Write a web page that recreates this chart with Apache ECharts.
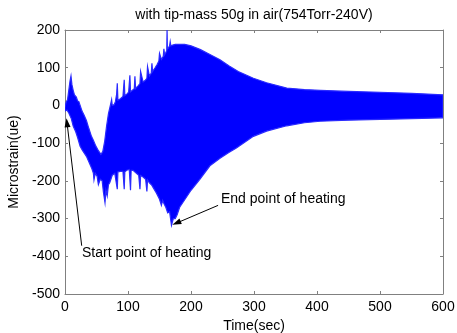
<!DOCTYPE html>
<html>
<head>
<meta charset="utf-8">
<script src="https://cdn.jsdelivr.net/npm/echarts@6/dist/echarts.min.js"></script>
<style>
  html, body { margin: 0; padding: 0; background: #fff; }
  #main-echart { width: 457px; height: 333px; }
</style>
</head>
<body>
<div id="main-echart"></div>
<script>
// upper edge of the oscillation band (time in sec, microstrain)
const upperT = [0, 2, 4, 6, 8, 9.5, 11, 13, 15, 18, 20, 22, 24, 27, 30, 34, 38, 42, 45, 49, 53, 57, 60, 63, 66, 69, 72, 74, 75,
  78, 80, 82, 83, 84, 88, 92, 94, 95, 98, 101, 103, 104, 107, 110, 111, 112, 116, 119, 120, 124, 127, 130, 131, 134, 137, 138, 139,
  143, 146, 149, 150, 153, 156, 157, 158, 160, 161.5, 162, 162.5, 164, 166, 167, 168, 171, 175, 180, 190, 200, 215, 230, 246, 260,
  275, 299, 320, 352, 380, 405, 450, 500, 550, 600];
const upperV = [-5, 10, 15, 40, 65, 78, 55, 40, 28, 22, 12, 10, 0, -15, -25, -40, -62, -82, -92, -108, -120, -130, -122, -95, -55, -22, 0, 15, 0,
  2, 10, 30, 59, 14, 18, 24, 68, 26, 30, 35, 80, 36, 40, 44, 77, 45, 52, 58, 90, 62, 66, 72, 103, 78, 86, 112, 90,
  100, 108, 118, 138, 122, 130, 150, 134, 140, 145, 200, 150, 152, 158, 169, 158, 160, 162, 162, 162, 158, 148, 135, 121, 105,
  90, 72, 60, 46, 42, 40, 37, 35, 32, 28];

// lower edge of the oscillation band
const lowerT = [0, 3, 6, 10, 13, 17, 20, 24, 28, 34, 38, 42, 45, 46, 48, 51, 53, 56, 59, 61, 63.5, 65, 67, 69, 71, 75, 79, 83, 84, 88, 92,
  94, 95, 98, 102, 104, 105, 108, 112, 117, 119, 120, 124, 128, 130, 131, 134, 138, 140, 145, 150, 153, 155, 157, 160, 163, 166,
  169, 172, 175, 178, 182, 190, 200, 214, 230, 246, 260, 272, 299, 320, 352, 380, 405, 450, 500, 550, 600];
const lowerV = [-15, -12, -20, -35, -55, -70, -85, -108, -120, -135, -150, -165, -179, -197, -180, -188, -210, -196, -200, -230, -258, -225, -240, -210, -205, -185, -180, -222, -176, -175, -175,
  -222, -176, -172, -170, -225, -172, -172, -178, -185, -222, -186, -190, -196, -228, -198, -205, -212, -218, -232, -249, -265, -252, -260, -270, -285, -282,
  -318, -300, -300, -290, -270, -250, -225, -196, -160, -140, -125, -113, -82, -68, -54, -46, -42, -39, -37, -35, -33];

// annotation arrows: [tail, head]
const startArrow = [[26.5, -372], [3.2, -46]];
const endArrow = [[243, -265], [177, -312]];

const xTicks = { min: 0, max: 600, interval: 100 };
const yTicks = { min: -500, max: 200, interval: 100 };

let myChart = echarts.init(document.getElementById('main-echart'), null, { renderer: 'canvas' });
const axisGray = '#808080';
const txtFont = 'Liberation Sans, Arial, sans-serif';

function boxAxis(pos, ticks, show) {
  return {
    type: 'value',
    position: pos,
    min: ticks.min,
    max: ticks.max,
    interval: ticks.interval,
    axisLine: { show: true, onZero: false, lineStyle: { color: axisGray, width: 1 } },
    axisTick: { show: true, inside: true, length: 3, lineStyle: { color: axisGray } },
    axisLabel: { show: show, color: '#000', fontSize: 14, fontFamily: txtFont, margin: 5 },
    splitLine: { show: false }
  };
}

const xMain = boxAxis('bottom', xTicks, true);
xMain.axisLabel.margin = 6;
xMain.name = 'Time(sec)';
xMain.nameLocation = 'middle';
xMain.nameGap = 22;
xMain.nameTextStyle = { color: '#000', fontSize: 14, fontFamily: txtFont };

const yMain = boxAxis('left', yTicks, true);
yMain.name = 'Microstrain(ue)';
yMain.nameLocation = 'middle';
yMain.nameGap = 30;
yMain.nameTextStyle = { color: '#000', fontSize: 14, fontFamily: txtFont };

const arrowLine = (a) => [
  { coord: a[0], symbol: 'none' },
  { coord: a[1], symbol: 'triangle', symbolSize: [6, 9] }
];

let option = {
  animation: false,
  backgroundColor: '#fff',
  grid: { left: 65, right: 14, top: 30, bottom: 39, containLabel: false, outerBoundsMode: 'none' },
  xAxis: [xMain, boxAxis('top', xTicks, false)],
  yAxis: [yMain, boxAxis('right', yTicks, false)],
  graphic: [
    // title centred over the plot box, as in the original
    { type: 'text', x: 254, y: 15, style: { text: 'with tip-mass 50g in air(754Torr-240V)', font: '14px ' + txtFont, fill: '#000', align: 'center', verticalAlign: 'middle' } },
    { type: 'text', left: 82, top: 246, style: { text: 'Start point of heating', font: '14px ' + txtFont, fill: '#000' } },
    { type: 'text', left: 221, top: 192, style: { text: 'End point of heating', font: '14px ' + txtFont, fill: '#000' } }
  ],
  series: [
    {
      type: 'custom',
      clip: true,
      silent: true,
      data: [[0, 0]],
      renderItem: function (params, api) {
        const pts = [];
        for (let i = 0; i < upperT.length; i++) pts.push(api.coord([upperT[i], upperV[i]]));
        for (let i = lowerT.length - 1; i >= 0; i--) pts.push(api.coord([lowerT[i], lowerV[i]]));
        return {
          type: 'polygon',
          shape: { points: pts },
          style: { fill: '#0000ff', stroke: '#2a2aff', lineWidth: 1.2 }
        };
      }
    },
    {
      type: 'line',
      data: [],
      z: 5,
      markLine: {
        silent: true,
        animation: false,
        label: { show: false },
        lineStyle: { color: '#000', width: 1, type: 'solid' },
        data: [arrowLine(startArrow), arrowLine(endArrow)]
      }
    }
  ]
};

myChart.setOption(option);
</script>
</body>
</html>
